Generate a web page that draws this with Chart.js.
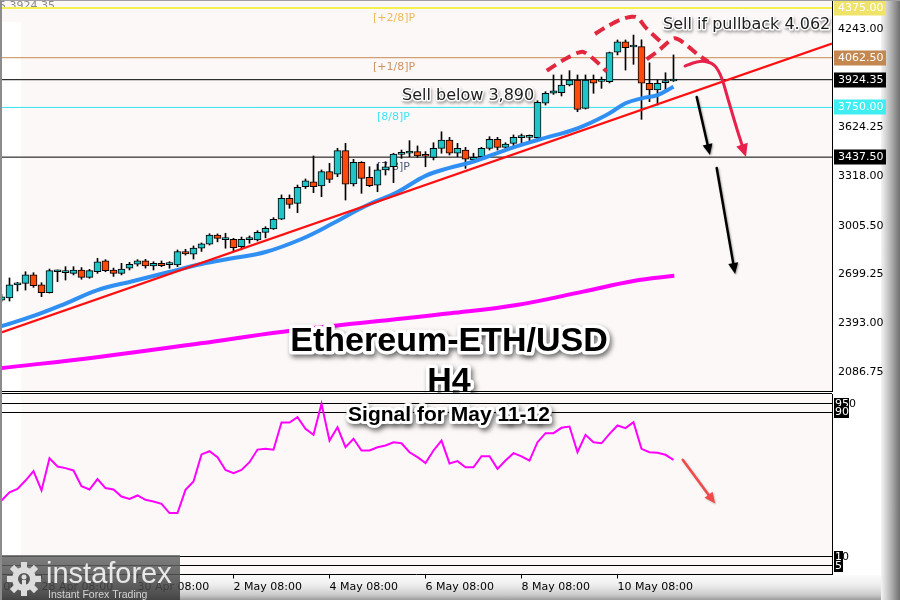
<!DOCTYPE html>
<html><head><meta charset="utf-8">
<script src="https://cdn.jsdelivr.net/npm/chart.js@4.4.1/dist/chart.umd.min.js"></script>
<style>
html,body{margin:0;padding:0;background:#fff;}
#wrap{position:relative;width:900px;height:600px;overflow:hidden;background:#fff;}
#bstrip{position:absolute;left:0;top:575px;width:900px;height:25px;background:linear-gradient(to bottom,#fbfbfb 0%,#eeeeee 40%,#cacaca 80%,#9c9c9c 100%);}
#rstrip{position:absolute;left:881px;top:0;width:19px;height:600px;background:linear-gradient(to right,#f4f4f4 0%,#d6d6d6 25%,#a8a8a8 60%,#6e6e6e 100%);}
#cA{position:absolute;left:0;top:0;}
#cB{position:absolute;left:0;top:393px;}
#edge{position:absolute;left:0;top:0;width:900px;height:600px;box-sizing:border-box;border-left:2px solid #8c8c8c;border-top:1px solid #a0a0a0;pointer-events:none;}
</style></head>
<body><div id="wrap"><div id="bstrip"></div><div id="rstrip"></div>
<canvas id="cA" width="900" height="393"></canvas>
<canvas id="cB" width="900" height="207"></canvas>
<div id="edge"></div></div>
<script>
// ---------------- DATA ----------------
// H4 candles, index 0 .. 84 (index 29 = 2 May 08:00)
const opens  = [2539,2552,2634,2644,2697,2634,2585,2717,2711,2707,2728,2682,2717,2786,2728,2707,2740,2764,2785,2753,2770,2762,2760,2843,2827,2865,2890,2948,2919,2921,2875,2919,2917,2965,2986,3047,3179,3147,3252,3283,3256,3346,3330,3478,3269,3405,3311,3262,3357,3377,3455,3462,3472,3447,3436,3493,3545,3462,3482,3420,3440,3493,3550,3499,3524,3560,3562,3560,3776,3839,3843,3891,3922,3744,3927,3914,3912,4097,4163,4130,4132,3902,3860,3905,3916];
const highs  = [2575,2678,2650,2717,2711,2648,2734,2728,2749,2749,2743,2732,2801,2793,2740,2770,2776,2793,2795,2780,2785,2780,2854,2858,2879,2898,2956,2955,2959,2927,2935,2942,2975,3000,3057,3200,3200,3262,3300,3445,3357,3399,3493,3524,3424,3409,3377,3394,3409,3462,3482,3541,3508,3472,3528,3597,3562,3524,3499,3462,3499,3566,3562,3528,3577,3583,3577,3792,3849,3954,3954,3981,3954,3954,3954,3941,4098,4174,4174,4205,4175,4030,3922,3968,4080];
const lows   = [2530,2533,2596,2602,2619,2560,2583,2655,2665,2697,2670,2676,2707,2717,2688,2697,2728,2753,2740,2728,2749,2739,2749,2822,2797,2845,2885,2905,2865,2849,2855,2896,2910,2930,2983,3045,3116,3088,3240,3214,3189,3277,3315,3168,3256,3210,3252,3220,3325,3277,3430,3440,3436,3377,3420,3462,3451,3440,3367,3409,3430,3482,3482,3482,3508,3528,3524,3556,3765,3832,3822,3885,3723,3740,3839,3870,3904,4080,3985,4021,3675,3786,3765,3849,3913];
const closes = [2560,2634,2648,2697,2629,2585,2724,2719,2713,2728,2682,2724,2780,2724,2707,2734,2764,2785,2753,2770,2755,2766,2843,2829,2865,2892,2948,2927,2923,2868,2921,2923,2965,2990,3047,3179,3141,3248,3288,3252,3346,3298,3478,3267,3405,3304,3258,3357,3377,3457,3459,3476,3445,3443,3493,3545,3462,3493,3424,3436,3493,3550,3499,3520,3562,3564,3564,3782,3839,3855,3891,3922,3738,3922,3902,3918,4094,4163,4125,4134,3902,3860,3902,3918,3924.35];
// blue moving average  [candle index, price]
const blueMA = [[-0.19,2372],[4,2439],[8,2517],[12,2602],[16.5,2659],[20.7,2712],[25,2766],[29,2803],[33,2841],[37.5,2923],[41.5,3023],[45.5,3130],[49.5,3218],[53,3320],[56,3370],[59,3409],[63,3482],[67,3545],[72,3619],[76,3713],[78,3776],[80,3807],[82,3828],[84,3880]];
// magenta long moving average
const magentaMA = [[-0.19,2110],[12.4,2183],[24.9,2267],[35.2,2340],[56.1,2456],[64.4,2508],[72.7,2592],[79,2659],[84.1,2692]];
// red trend line
const trendLine = [[-0.1875,2332],[103.8125,4151]];
// horizontal levels
const levelValues = [4375, 4062.5, 3924.35, 3750, 3437.5];
const levelLabels = ['4375.00','4062.50','3924.35','3750.00','3437.50'];
const murreyNames  = ['[+2/8]P','[+1/8]P','[8/8]P','[7/8]P'];
const murreyValues = [4375, 4062.5, 3750, 3437.5];
// price axis ticks
const priceTicks = [4243.00, 3624.25, 3318.00, 3005.50, 2699.25, 2393.00, 2086.75];
// time axis
const xTickIndex  = [-7, 5, 17, 29, 41, 53, 65, 77];
const xTickLabels = ['26 Apr 08:00','28 Apr 08:00','30 Apr 08:00','2 May 08:00','4 May 08:00','6 May 08:00','8 May 08:00','10 May 08:00'];
// oscillator (0-100)
const oscValues = [41.1,45.7,47.6,52.2,57.4,46.7,64.6,60,59.1,57.8,49.1,47.2,53,48,47.2,43.3,42,43.9,41.5,40.6,39.3,34.1,34.1,47,51.7,66.7,68.5,65.2,58.1,56.3,58.1,62.4,69.4,69.8,69.3,84.4,84.4,87.4,80.9,77.6,94.8,74.4,81.8,70.7,75.4,68.9,68.9,70.7,71.7,73.5,72.9,67.9,65.2,61.9,68.9,74.4,61.7,63,59.6,59.6,65.7,65.7,58.7,63.3,67.4,65.6,63.3,73.5,78.5,78.5,81.5,82.2,67.9,77.6,73.5,72.9,78.1,82.8,81.3,84.6,69.8,67.9,67.6,66.5,63.7];
const oscLevels = [95, 90, 10, 5];
// drawn annotations, in [candle index, price]
const shoulderL = [[68.15,3981],[70.23,4048],[72.1,4094],[72.94,4094],[74.4,4037],[75.65,3975]];
const headCurve = [[74.19,4212],[75.65,4257],[77.31,4300],[78.78,4320],[79.6,4310],[80.44,4257],[81.48,4205],[82.53,4157]];
const shoulderR = [[80.65,4052],[82.31,4115],[83.78,4178],[84.6,4178],[85.85,4132],[87.1,4080],[88.35,4037]];
const pullbackArrow = [[85.44,4010],[86.9,4036],[88.15,4037],[89.19,4010],[90.03,3933],[90.85,3797],[91.9,3619],[93.06,3438]];
const blackArrow1 = [[86.9,3816],[88.56,3451]];
const blackArrow2 = [[89.4,3369],[91.7,2703]];
const oscArrow = [[85.15,63.7],[89.2,39.4]];

// ---------------- STYLE ----------------
const UP='#1fc4c6', DOWN='#ff4a0c';
const levelStyle = [{c:'#f4f050',w:2},{c:'#c98a52',w:1},{c:'#000000',w:1},{c:'#36e2f0',w:1},{c:'#000000',w:1}];
const badgeBg = ['#efe36a','#c28850','#000000','#3eeef0','#000000'];
const murreyColors = ['#f2b85a','#d0925e','#3ee6f4','#4a5a7e'];
const xMin=-0.1875, xMax=103.8125;
const SMALL='11px "DejaVu Sans"';
const noPad = s => { s.paddingTop=0; s.paddingBottom=0; s.paddingLeft=0; s.paddingRight=0; };

const toPts = a => a.map(([x,y])=>({x,y}));
const N = closes.length;
const bodyData=[], wickData=[], bodyCol=[];
for(let i=0;i<N;i++){
  bodyData.push({x:i,y:[opens[i],closes[i]]});
  wickData.push({x:i,y:[lows[i],highs[i]]});
  bodyCol.push(closes[i]>=opens[i]?UP:DOWN);
}

function spline(ctx,p){
  ctx.moveTo(p[0].x,p[0].y);
  for(let i=0;i<p.length-1;i++){
    const p0=p[i-1]||p[i], p1=p[i], p2=p[i+1], p3=p[i+2]||p2;
    ctx.bezierCurveTo(p1.x+(p2.x-p0.x)/6,p1.y+(p2.y-p0.y)/6,p2.x-(p3.x-p1.x)/6,p2.y-(p3.y-p1.y)/6,p2.x,p2.y);
  }
}
function head(ctx,from,to,len,w,color){
  const a=Math.atan2(to.y-from.y,to.x-from.x);
  ctx.beginPath();
  ctx.moveTo(to.x,to.y);
  ctx.lineTo(to.x-len*Math.cos(a)+w*Math.sin(a),to.y-len*Math.sin(a)-w*Math.cos(a));
  ctx.lineTo(to.x-len*Math.cos(a)-w*Math.sin(a),to.y-len*Math.sin(a)+w*Math.cos(a));
  ctx.closePath(); ctx.fillStyle=color; ctx.fill();
}
function arrowPath(ctx,p,color,width,len,w,curved){
  const q=p.slice(); const last=q[q.length-1], prev=q[q.length-2];
  const a=Math.atan2(last.y-prev.y,last.x-prev.x);
  q[q.length-1]={x:last.x-len*0.7*Math.cos(a),y:last.y-len*0.7*Math.sin(a)};
  ctx.beginPath();
  if(curved) spline(ctx,q); else {ctx.moveTo(q[0].x,q[0].y); for(let i=1;i<q.length;i++) ctx.lineTo(q[i].x,q[i].y);}
  ctx.strokeStyle=color; ctx.lineWidth=width; ctx.lineCap='round'; ctx.stroke();
  head(ctx,prev,last,len,w,color);
}
function glowText(ctx,txt,x,y,font,o){
  ctx.save(); ctx.font=font; ctx.textAlign=o.align||'left'; ctx.textBaseline='alphabetic'; ctx.lineJoin='round';
  ctx.shadowColor=o.shadow; ctx.shadowBlur=o.blur; ctx.shadowOffsetX=o.ox; ctx.shadowOffsetY=o.oy;
  ctx.strokeStyle='#ffffff'; ctx.lineWidth=o.stroke; ctx.strokeText(txt,x,y);
  ctx.shadowColor='transparent'; ctx.fillStyle=o.color; ctx.fillText(txt,x,y);
  ctx.restore();
}

const pluginA = {
  id:'pA',
  beforeDraw(c){
    const {ctx,chartArea:a}=c; ctx.save();
    ctx.fillStyle='#fcf8f7'; ctx.fillRect(a.left,a.top,a.right-a.left,a.bottom-a.top);
    ctx.fillStyle='#ffffff'; ctx.fillRect(a.left,22,21,a.bottom-22);
    ctx.restore();
  },
  beforeDatasetsDraw(c){
    const {ctx}=c, Y=c.scales.y; ctx.save();
    ctx.font=SMALL; ctx.textBaseline='alphabetic';
    murreyNames.forEach((t,i)=>{ctx.fillStyle=murreyColors[i]; ctx.fillText(t, i<2?373:377, Y.getPixelForValue(murreyValues[i])+12.5);});
    ctx.fillStyle='#8a8a8a'; ctx.fillText('5 3924.35',-1,9);
    ctx.restore();
  },
  afterDatasetsDraw(c){
    const {ctx}=c, X=c.scales.x, Y=c.scales.y;
    const P=a=>a.map(([k,v])=>({x:X.getPixelForValue(k),y:Y.getPixelForValue(v)}));
    ctx.save();
    ctx.setLineDash([11,6]); ctx.lineWidth=4; ctx.strokeStyle='#e2283e'; ctx.lineCap='butt';
    [shoulderL,headCurve,shoulderR].forEach(s=>{ctx.beginPath(); spline(ctx,P(s)); ctx.stroke();});
    ctx.setLineDash([]);
    arrowPath(ctx,P(pullbackArrow),'#e8204c',3,13,6,true);
    ctx.shadowColor='rgba(0,0,0,0.35)'; ctx.shadowBlur=2; ctx.shadowOffsetX=1; ctx.shadowOffsetY=1;
    arrowPath(ctx,P(blackArrow1),'#000000',2.5,11,5,false);
    arrowPath(ctx,P(blackArrow2),'#000000',2.5,11,5,false);
    ctx.restore();
    const small={shadow:'rgba(0,0,0,0.35)',blur:3,ox:1,oy:2,stroke:3,color:'#1c1c1c'};
    glowText(ctx,'Sell if pullback 4.062',663,29,'16px "DejaVu Sans"',small);
    glowText(ctx,'Sell below 3,890',402,100,'16px "DejaVu Sans"',small);
    const big={shadow:'rgba(0,0,0,0.55)',blur:5,ox:2,oy:3,stroke:7,color:'#000000',align:'center'};
    glowText(ctx,'Ethereum-ETH/USD',449,351,'bold 34px "Liberation Sans"',big);
    glowText(ctx,'H4',449,391,'bold 34px "Liberation Sans"',big);
  },
  afterDraw(c){
    const {ctx,chartArea:a}=c, Y=c.scales.y; ctx.save();
    ctx.strokeStyle='#000'; ctx.lineWidth=1; ctx.beginPath(); ctx.moveTo(0,a.bottom+0.5); ctx.lineTo(a.right,a.bottom+0.5); ctx.stroke();
    ctx.font=SMALL; ctx.textBaseline='middle';
    levelValues.forEach((v,i)=>{
      const y=Math.round(Y.getPixelForValue(v));
      ctx.fillStyle=badgeBg[i]; ctx.fillRect(834,y-7.5,52,15);
      ctx.fillStyle='#ffffff'; ctx.fillText(levelLabels[i],838,y+0.5);
    });
    ctx.restore();
  }
};

const lineDs=(data,color,width,order,extra)=>Object.assign({type:'line',data,borderColor:color,borderWidth:width,pointRadius:0,pointHoverRadius:0,fill:false,order},extra||{});
const datasetsA=[];
levelValues.forEach((v,i)=>datasetsA.push(lineDs([{x:xMin,y:v},{x:xMax,y:v}],levelStyle[i].c,levelStyle[i].w,10)));
datasetsA.push(lineDs(toPts(magentaMA),'#ff00ff',4,9,{tension:0.4}));
datasetsA.push({type:'bar',data:wickData,backgroundColor:'#000000',borderWidth:0,barThickness:1,grouped:false,order:6});
datasetsA.push({type:'bar',data:bodyData,backgroundColor:bodyCol,borderColor:'#000000',borderWidth:1,borderSkipped:false,barThickness:7,minBarLength:2,grouped:false,order:5});
datasetsA.push(lineDs(toPts(blueMA),'#2f8ff2',4,4,{tension:0.4}));
datasetsA.push(lineDs(toPts(trendLine),'#ff1010',2.2,3));

new Chart(document.getElementById('cA'),{
  type:'bar',
  data:{datasets:datasetsA},
  options:{
    responsive:false,animation:false,events:[],
    layout:{autoPadding:false,padding:{left:0,right:0,top:0,bottom:2}},
    plugins:{legend:{display:false},tooltip:{enabled:false}},
    scales:{
      x:{type:'linear',display:false,min:xMin,max:xMax,offset:false,afterFit:noPad},
      y:{type:'linear',position:'right',min:1967.33,max:4425.31,
         afterFit(s){s.width=68; noPad(s);},
         afterBuildTicks(s){s.ticks=priceTicks.map(v=>({value:v}));},
         ticks:{callback:v=>Number(v).toFixed(2),font:{family:'DejaVu Sans',size:11},color:'#000',padding:6,autoSkip:false},
         grid:{drawOnChartArea:false,drawTicks:false},
         border:{display:true,color:'#000',width:1}}
    }
  },
  plugins:[pluginA]
});

const pluginB = {
  id:'pB',
  beforeDraw(c){
    const {ctx,chartArea:a}=c; ctx.save();
    ctx.fillStyle='#fcf8f7'; ctx.fillRect(a.left,a.top,a.right-a.left,a.bottom-a.top);
    ctx.fillStyle='#ffffff'; ctx.fillRect(a.left,a.top,21,a.bottom-a.top);
    ctx.strokeStyle='#000'; ctx.lineWidth=1; ctx.beginPath(); ctx.moveTo(0,0.5); ctx.lineTo(a.right,0.5); ctx.stroke();
    ctx.restore();
  },
  afterDatasetsDraw(c){
    const {ctx}=c, X=c.scales.x, Y=c.scales.y;
    const P=a=>a.map(([k,v])=>({x:X.getPixelForValue(k),y:Y.getPixelForValue(v)}));
    ctx.save();
    ctx.shadowColor='rgba(0,0,0,0.25)'; ctx.shadowBlur=2; ctx.shadowOffsetX=1; ctx.shadowOffsetY=1;
    arrowPath(ctx,P(oscArrow),'#f04a4a',2.5,11,5,false);
    ctx.restore();
    glowText(ctx,'Signal for May 11-12',449,27.7,'bold 21px "Liberation Sans"',{shadow:'rgba(0,0,0,0.55)',blur:5,ox:2,oy:3,stroke:6,color:'#000000',align:'center'});
  },
  afterDraw(c){
    const {ctx}=c, Y=c.scales.y; ctx.save();
    ctx.font=SMALL; ctx.textBaseline='middle';
    const tag=(v,boxed,rest,bw)=>{const y=Math.round(Y.getPixelForValue(v)); ctx.fillStyle='#000'; ctx.fillRect(834,y-6,bw,12); ctx.fillStyle='#fff'; ctx.fillText(boxed,835,y+0.5); if(rest){ctx.fillStyle='#000'; ctx.fillText(rest,835+ctx.measureText(boxed).width,y+0.5);}};
    tag(oscLevels[0],'95','0',15); tag(oscLevels[1],'90','',15); tag(oscLevels[2],'1','0',9); tag(oscLevels[3],'5','',9);
    const g=ctx.createLinearGradient(0,162,0,207); g.addColorStop(0,'rgba(105,105,105,0.85)'); g.addColorStop(1,'rgba(55,55,55,0.88)');
    ctx.fillStyle=g; ctx.fillRect(0,162,180,45);
    const cx=24, cy=186; ctx.fillStyle='#dcdcdc';
    ctx.beginPath(); ctx.arc(cx,cy,12,0,Math.PI*2); ctx.fill();
    for(let t=0;t<8;t++){ctx.save(); ctx.translate(cx,cy); ctx.rotate(t*Math.PI/4); ctx.fillRect(-3,-17,6,6); ctx.restore();}
    ctx.fillStyle='#555'; ctx.beginPath(); ctx.arc(cx,cy,6,0,Math.PI*2); ctx.fill();
    ctx.fillStyle='#dcdcdc'; ctx.beginPath(); ctx.arc(cx,cy-2,2.5,0,Math.PI*2); ctx.fill(); ctx.fillRect(cx-2,cy+1,4,9);
    ctx.textBaseline='alphabetic';
    ctx.fillStyle='#e8e8e8'; ctx.font='29px "Liberation Sans"'; ctx.fillText('instaforex',46,190);
    ctx.fillStyle='#d4d4d4'; ctx.font='10.5px "Liberation Sans"'; ctx.fillText('Instant Forex Trading',48,205);
    ctx.restore();
  }
};

const datasetsB=[];
oscLevels.forEach(v=>datasetsB.push(lineDs([{x:xMin,y:v},{x:xMax,y:v}],'#000000',1,10)));
datasetsB.push(lineDs(oscValues.map((v,i)=>({x:i,y:v})),'#ff00ff',2,1));

new Chart(document.getElementById('cB'),{
  type:'line',
  data:{datasets:datasetsB},
  options:{
    responsive:false,animation:false,events:[],
    layout:{autoPadding:false,padding:{left:0,right:0,top:1.5,bottom:0}},
    plugins:{legend:{display:false},tooltip:{enabled:false}},
    scales:{
      x:{type:'linear',position:'bottom',min:xMin,max:xMax,offset:false,
         afterFit(s){s.height=25.5; noPad(s);},
         afterBuildTicks(s){s.ticks=xTickIndex.map(v=>({value:v}));},
         ticks:{callback:(v,i)=>xTickLabels[i],align:'start',autoSkip:false,maxRotation:0,minRotation:0,font:{family:'DejaVu Sans',size:11},color:'#000',padding:2},
         grid:{drawOnChartArea:false,drawTicks:true,tickLength:4,color:'#000'},
         border:{display:true,color:'#000',width:1}},
      y:{type:'linear',position:'right',min:0,max:100,
         afterFit(s){s.width=68; noPad(s);},
         ticks:{display:false},
         grid:{display:false,drawTicks:false},
         border:{display:true,color:'#000',width:1}}
    }
  },
  plugins:[pluginB]
});
</script>
</body></html>
